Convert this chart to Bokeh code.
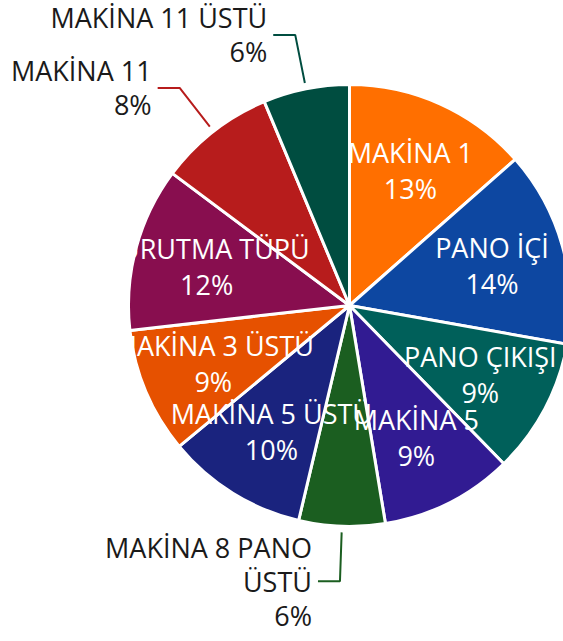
import math
import textwrap
from bokeh.plotting import figure
from bokeh.models import Range1d, ColumnDataSource
from bokeh.core.properties import value
from bokeh.embed import file_html
from bokeh.resources import INLINE

# ---- data ----
categories = ["MAKİNA 1", "PANO İÇİ", "PANO ÇIKIŞI", "MAKİNA 5", "MAKİNA 8 PANO ÜSTÜ",
              "MAKİNA 5 ÜSTÜ", "MAKİNA 3 ÜSTÜ", "KURUTMA TÜPÜ", "MAKİNA 11", "MAKİNA 11 ÜSTÜ"]
values = [13.5, 14.3, 9.9, 9.7, 6.3, 10.3, 9.2, 12.0, 8.5, 6.3]
colors = ["#FF6F00", "#0D47A1", "#00605A", "#311B92", "#1B5E20",
          "#1A237E", "#E65100", "#880E4F", "#B71C1C", "#004D40"]

# ---- layout (pixel-like data space, y up) ----
W, H = 563, 641
cx, cy = 349, H - 305
R = 221
FONT = value("Open Sans")
FS = "27px"

p = figure(width=W, height=H, x_range=Range1d(0, W), y_range=Range1d(0, H),
           output_backend="svg", toolbar_location=None, min_border=0)
p.axis.visible = False
p.grid.visible = False
p.outline_line_color = None
p.background_fill_color = "white"
p.border_fill_color = "white"

total = sum(values)
cum = 0.0
inside, outside = [], []
for name, v, col in zip(categories, values, colors):
    a0 = cum / total * 2 * math.pi
    cum += v
    a1 = cum / total * 2 * math.pi
    mid = (a0 + a1) / 2
    pct = f"{int(v * 100 / total + 1e-9)}%"
    src = ColumnDataSource(dict(x=[cx], y=[cy], s=[math.pi / 2 - a0], e=[math.pi / 2 - a1]))
    p.wedge(x="x", y="y", radius=R, start_angle="s", end_angle="e", direction="clock",
            fill_color=col, line_color="white", line_width=3, source=src)
    if v / total >= 0.09:
        inside.append((name, pct, mid))
    else:
        outside.append((name, pct, col, mid))

for name, pct, mid in inside:
    lx = cx + 148 * math.sin(mid)
    ly = cy + 148 * math.cos(mid)
    tsrc = ColumnDataSource(dict(x=[lx, lx], y=[ly, ly], t=[name, pct], off=[-18, 18]))
    p.text(x="x", y="y", text="t", y_offset="off", source=tsrc, text_align="center",
           text_baseline="middle", text_font=FONT, text_font_size=FS, text_color="white")

for name, pct, col, mid in outside:
    sx, sy = math.sin(mid), math.cos(mid)
    x0, y0 = cx + (R + 6) * sx, cy + (R + 6) * sy
    x1, y1 = cx + (R + 55) * sx, cy + (R + 55) * sy
    side = -1 if sx < 0 else 1
    x2 = x1 + side * 22
    p.line([x0, x1, x2], [y0, y1, y1], line_color=col, line_width=2)
    lines = textwrap.wrap(name, 14) + [pct]
    n = len(lines)
    offs = [(k - (n - 1) / 2) * 34 for k in range(n)]
    tx = x2 + side * 6
    tsrc = ColumnDataSource(dict(x=[tx] * n, y=[y1] * n, t=lines, off=offs))
    p.text(x="x", y="y", text="t", y_offset="off", source=tsrc,
           text_align="right" if side < 0 else "left", text_baseline="middle",
           text_font=FONT, text_font_size=FS, text_color="#1a1a1a")

open("out.html", "w").write(file_html(p, INLINE))
